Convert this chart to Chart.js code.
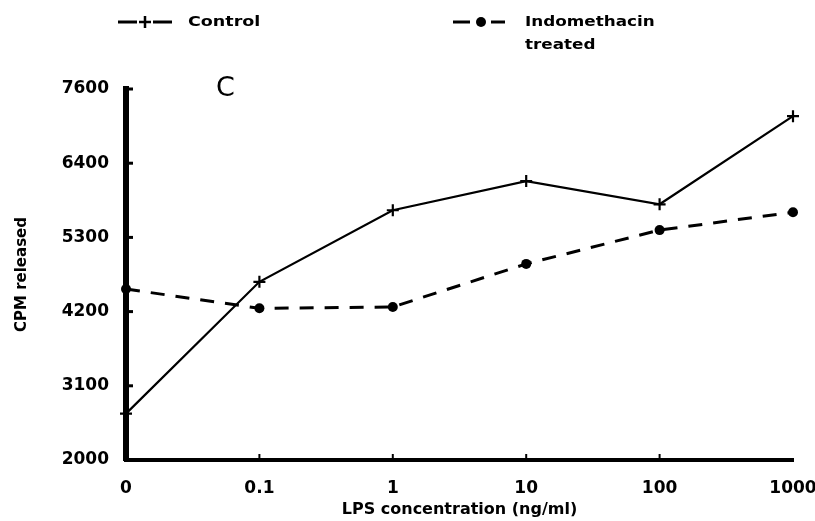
<!DOCTYPE html>
<html>
<head>
<meta charset="utf-8">
<title>CPM released vs LPS concentration</title>
<script src="https://cdn.jsdelivr.net/npm/chart.js@4/dist/chart.umd.min.js"></script>
<style>
  html, body { margin: 0; padding: 0; background: #fff; overflow: hidden; }
  canvas { display: block; }
</style>
</head>
<body>
<canvas id="c" width="840" height="521"></canvas>
<script>
// LPS concentration (ng/ml) categories
const concentrations = ['0', '0.1', '1', '10', '100', '1000'];
// CPM released, control cells
const controlCPM = [2700, 4690, 5770, 6210, 5860, 7190];
// CPM released, indomethacin treated cells
const indomethacinCPM = [4580, 4290, 4310, 4960, 5470, 5740];
// y axis: 2000..7600 in five equal steps, labels truncated to hundreds
const yMin = 2000;
const yMax = 7600;
const yStep = 1120;
const seriesNames = ['Control', 'Indomethacin treated'];
const panelLetter = 'C';

const FONT = "'DejaVu Sans', 'Liberation Sans', sans-serif";

// small inward tick marks on both axes
const innerTicks = {
  id: 'innerTicks',
  afterDraw(chart) {
    const ctx = chart.ctx;
    const x = chart.scales.x, y = chart.scales.y;
    const area = chart.chartArea;
    ctx.save();
    ctx.strokeStyle = '#000';
    ctx.lineWidth = 3;
    ctx.lineCap = 'butt';
    y.ticks.forEach((t, i) => {
      if (i === 0) return;
      const py = y.getPixelForValue(t.value);
      ctx.beginPath();
      ctx.moveTo(area.left, py);
      ctx.lineTo(area.left + 7, py);
      ctx.stroke();
    });
    ctx.lineWidth = 2;
    x.ticks.forEach((t, i) => {
      if (i === 0 || i === x.ticks.length - 1) return;
      const px = x.getPixelForTick(i);
      ctx.beginPath();
      ctx.moveTo(px, area.bottom);
      ctx.lineTo(px, area.bottom - 6);
      ctx.stroke();
    });
    ctx.restore();
  }
};

// wide bold text, stretched horizontally
function wideText(ctx, text, x, y, stretch) {
  ctx.save();
  ctx.translate(x, y);
  ctx.scale(stretch, 1);
  ctx.fillText(text, 0, 0);
  ctx.restore();
}

// legend row above the plot and the panel letter
const headerPlugin = {
  id: 'header',
  afterDraw(chart) {
    const ctx = chart.ctx;
    const ds = chart.data.datasets;
    ctx.save();
    ctx.fillStyle = '#000';
    ctx.strokeStyle = '#000';
    ctx.textBaseline = 'middle';
    ctx.font = 'bold 14px ' + FONT;

    // Control: solid sample with cross marker
    const y0 = 22;
    ctx.lineWidth = 3;
    ctx.beginPath(); ctx.moveTo(118, y0); ctx.lineTo(137, y0); ctx.stroke();
    ctx.beginPath(); ctx.moveTo(153, y0); ctx.lineTo(172, y0); ctx.stroke();
    ctx.lineWidth = 2.5;
    ctx.beginPath(); ctx.moveTo(139, y0); ctx.lineTo(151, y0); ctx.moveTo(145, y0 - 6); ctx.lineTo(145, y0 + 6); ctx.stroke();
    wideText(ctx, ds[0].label, 188, y0, 1.25);

    // Indomethacin: dashed sample with dot marker
    ctx.lineWidth = 3;
    ctx.beginPath(); ctx.moveTo(453, y0); ctx.lineTo(470, y0); ctx.stroke();
    ctx.beginPath(); ctx.moveTo(491, y0); ctx.lineTo(505, y0); ctx.stroke();
    ctx.beginPath(); ctx.arc(481, y0, 5, 0, Math.PI * 2); ctx.fill();
    const words = ds[1].label.split(' ');
    wideText(ctx, words[0], 525, y0, 1.2);
    wideText(ctx, words.slice(1).join(' '), 525, 45, 1.2);

    // panel letter
    ctx.font = '27px ' + FONT;
    ctx.fillText(panelLetter, 216, 89);
    ctx.restore();
  }
};

new Chart(document.getElementById('c'), {
  type: 'line',
  data: {
    labels: concentrations,
    datasets: [
      {
        label: seriesNames[0],
        data: controlCPM,
        borderColor: '#000',
        backgroundColor: '#000',
        borderWidth: 2.2,
        pointStyle: 'crossRot',
        pointRotation: 45,
        pointRadius: 6,
        pointBorderWidth: 2.2,
        tension: 0,
        fill: false
      },
      {
        label: seriesNames[1],
        data: indomethacinCPM,
        borderColor: '#000',
        backgroundColor: '#000',
        borderWidth: 3,
        borderDash: [14, 11],
        pointStyle: 'circle',
        pointRadius: 5,
        pointBorderWidth: 0,
        tension: 0,
        fill: false
      }
    ]
  },
  options: {
    responsive: false,
    animation: false,
    devicePixelRatio: 1,
    layout: { padding: { top: 89, right: 47, bottom: 0, left: 0 } },
    plugins: {
      legend: { display: false },
      tooltip: { enabled: false },
      title: { display: false }
    },
    scales: {
      x: {
        type: 'category',
        offset: false,
        grid: { display: false, drawTicks: false },
        border: { display: true, color: '#000', width: 4 },
        ticks: {
          color: '#000',
          padding: 18,
          autoSkip: false,
          maxRotation: 0,
          font: { family: FONT, size: 17, weight: 'bold' }
        },
        title: {
          display: true,
          text: 'LPS concentration (ng/ml)',
          color: '#000',
          padding: { top: 2, bottom: 2 },
          font: { family: FONT, size: 16, weight: 'bold' }
        },
        afterFit(s) { s.height = 61; }
      },
      y: {
        min: yMin,
        max: yMax,
        grid: { display: false, drawTicks: false },
        border: { display: true, color: '#000', width: 6 },
        ticks: {
          stepSize: yStep,
          color: '#000',
          padding: 17,
          font: { family: FONT, size: 17, weight: 'bold' },
          callback: v => String(Math.floor(v / 100) * 100)
        },
        title: {
          display: true,
          text: 'CPM released',
          color: '#000',
          padding: { top: 13, bottom: 0 },
          font: { family: FONT, size: 15, weight: 'bold' }
        },
        afterFit(s) { s.width = 126; }
      }
    }
  },
  plugins: [innerTicks, headerPlugin]
});
</script>
</body>
</html>
